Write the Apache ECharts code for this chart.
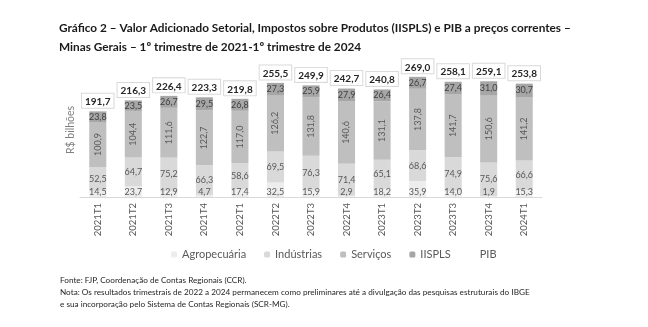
<!DOCTYPE html>
<html><head><meta charset="utf-8">
<script src="https://cdn.jsdelivr.net/npm/echarts@6/dist/echarts.min.js"></script>
<style>html,body{margin:0;padding:0;background:#fff}#c{width:648px;height:327px}</style>
</head><body><div id="c"></div>
<script>
const categories = ['2021T1','2021T2','2021T3','2021T4','2022T1','2022T2','2022T3','2022T4','2023T1','2023T2','2023T3','2023T4','2024T1'];
const agropecuaria = [14.5,23.7,12.9,4.7,17.4,32.5,15.9,2.9,18.2,35.9,14.0,1.9,15.3];
const industrias = [52.5,64.7,75.2,66.3,58.6,69.5,76.3,71.4,65.1,68.6,74.9,75.6,66.6];
const servicos = [100.9,104.4,111.6,122.7,117.0,126.2,131.8,140.6,131.1,137.8,141.7,150.6,141.2];
const iispls = [23.8,23.5,26.7,29.5,26.8,27.3,25.9,27.9,26.4,26.7,27.4,31.0,30.7];
const pib = [191.7,216.3,226.4,223.3,219.8,255.5,249.9,242.7,240.8,269.0,258.1,259.1,253.8];

const FONT = 'Lato';
const fmt = v => v.toFixed(1).replace('.', ',');
const lbl = (extra) => Object.assign({show:true, color:'#595959', fontSize:9, fontFamily:FONT, formatter:p=>fmt(p.value)}, extra);

const chart = echarts.init(document.getElementById('c'), null, {renderer:'canvas'});
chart.setOption({
  animation:false,
  textStyle:{fontFamily:FONT},
  title:[
    {text:'Gráfico 2 – Valor Adicionado Setorial, Impostos sobre Produtos (IISPLS) e PIB a preços correntes –\nMinas Gerais – 1º trimestre de 2021-1º trimestre de 2024',
     left:54, top:14, textStyle:{fontSize:11.8, fontWeight:'bold', color:'#1a1a1a', fontFamily:FONT, lineHeight:19}},
    {text:'Fonte: FJP, Coordenação de Contas Regionais (CCR).\nNota: Os resultados trimestrais de 2022 a 2024 permanecem como preliminares até a divulgação das pesquisas estruturais do IBGE\ne sua incorporação pelo Sistema de Contas Regionais (SCR-MG).',
     left:55, top:269, textStyle:{fontSize:8.2, fontWeight:'normal', color:'#262626', fontFamily:FONT, lineHeight:12}}
  ],
  legend:{
    data:[{name:'Agropecuária'},{name:'Indústrias'},{name:'Serviços'},{name:'IISPLS'},{name:'PIB', icon:'none'}],
    left:166, top:244, itemWidth:6, itemHeight:6, itemGap:18,
    textStyle:{fontSize:11, color:'#595959', fontFamily:FONT}
  },
  grid:{left:80, right:106, top:63, bottom:130},
  xAxis:{type:'category', data:categories,
    axisLine:{lineStyle:{color:'#d9d9d9'}}, axisTick:{show:false},
    axisLabel:{rotate:90, color:'#595959', fontSize:9.5, fontFamily:FONT, margin:6}},
  yAxis:{type:'value', min:0, max:300, show:true,
    name:'R$ bilhões', nameLocation:'middle', nameGap:4, nameRotate:90,
    nameTextStyle:{color:'#7f7f7f', fontSize:10.5, fontFamily:FONT},
    axisLine:{show:false}, axisTick:{show:false}, axisLabel:{show:false}, splitLine:{show:false}},
  series:[
    {name:'Agropecuária', type:'bar', stack:'t', barWidth:'48%', data:agropecuaria,
     itemStyle:{color:'#ededed'}, label:lbl({position:'insideBottom', distance:0})},
    {name:'Indústrias', type:'bar', stack:'t', data:industrias,
     itemStyle:{color:'#d9d9d9'}, label:lbl({position:'inside'})},
    {name:'Serviços', type:'bar', stack:'t', data:servicos,
     itemStyle:{color:'#bfbfbf'}, label:lbl({position:'inside', rotate:90})},
    {name:'IISPLS', type:'bar', stack:'t', data:iispls,
     itemStyle:{color:'#a6a6a6'}, label:lbl({position:'inside', color:'#404040'})},
    {name:'PIB', type:'line', data:pib, symbol:'circle', symbolSize:1, showSymbol:true,
     lineStyle:{opacity:0}, itemStyle:{color:'rgba(0,0,0,0)'},
     label:{show:true, position:'top', distance:3, formatter:p=>fmt(p.value), color:'#262626', fontWeight:'bold', fontSize:10, fontFamily:FONT,
       backgroundColor:'#fff', borderColor:'#d9d9d9', borderWidth:1, padding:[3,3,1,3]}}
  ]
});
</script></body></html>
